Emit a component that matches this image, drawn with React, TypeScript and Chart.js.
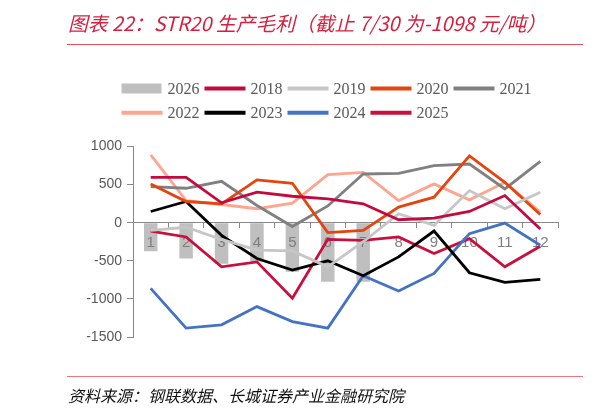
import React, { useEffect, useRef } from "react";
import { Chart, registerables } from "chart.js";

Chart.register(...registerables);

const months = ["1", "2", "3", "4", "5", "6", "7", "8", "9", "10", "11", "12"];

const v2026 = [-375, -470, -540, -510, -645, -775, -775, null, null, null, null, null];
const v2018 = [595, 595, 261, 400, 347, 313, 248, 39, 60, 147, 356, -83];
const v2019 = [-100, -60, -220, -360, -370, -580, -250, 117, -35, 421, 183, 400];
const v2020 = [509, 278, 248, 561, 517, -130, -100, 204, 335, 878, 530, 108];
const v2021 = [474, 452, 543, 226, -50, 220, 639, 647, 748, 770, 443, 804];
const v2022 = [891, 291, 239, 183, 256, 630, 661, 291, 509, 300, 530, 139];
const v2023 = [147, 278, -166, -470, -622, -500, -696, -449, -109, -657, -783, -744];
const v2024 = [-862, -1383, -1340, -1101, -1297, -1383, -696, -897, -666, -144, -5, -296];
const v2025 = [-109, -187, -579, -514, -992, -218, -231, -187, -405, -209, -579, -309];

const yMin = -1500;
const yMax = 1000;
const yStep = 500;

const titleText = "图表 22：STR20 生产毛利（截止 7/30 为-1098 元/吨）";
const sourceText = "资料来源：钢联数据、长城证券产业金融研究院";

const serifFont = "'Liberation Serif', 'Times New Roman', 'DejaVu Serif', serif";
const sansFont = "'Liberation Sans', Arial, sans-serif";

// Draw the bar dataset first (before the axes), so tick labels sit on the bars
// and the lines sit on top of the labels.
const barsUnderAxisPlugin = {
  id: "barsUnderAxis",
  beforeDraw(chart: any) {
    const meta = chart.getDatasetMeta(0);
    if (!meta || meta.hidden) return;
    const ctx = chart.ctx;
    const area = chart.chartArea;
    ctx.save();
    ctx.beginPath();
    ctx.rect(area.left, area.top, area.right - area.left, area.bottom - area.top);
    ctx.clip();
    meta.data.forEach((el: any) => el.draw(ctx, area));
    ctx.restore();
  },
  beforeDatasetDraw(chart: any, args: any) {
    if (args.index === 0) return false;
    return true;
  },
};

const legendPlugin = {
  id: "customLegend",
  afterDraw(chart: any) {
    const ctx = chart.ctx;
    ctx.save();
    ctx.font = "16px " + serifFont;
    ctx.textBaseline = "middle";
    ctx.textAlign = "left";
    const startX = 121.5;
    const maxX = 560;
    const rowH = 24.2;
    const sw = 41;
    let x = startX;
    let y = 88.5;
    chart.data.datasets.forEach((ds: any) => {
      const label = ds.label as string;
      const tw = ctx.measureText(label).width;
      const w = sw + 5 + tw + 5;
      if (x + w > maxX) {
        x = startX;
        y += rowH;
      }
      if (ds.type === "bar") {
        ctx.fillStyle = ds.backgroundColor;
        ctx.fillRect(x, y - 5, 40, 10);
      } else {
        ctx.strokeStyle = ds.borderColor;
        ctx.lineWidth = 4;
        ctx.beginPath();
        ctx.moveTo(x, y);
        ctx.lineTo(x + sw, y);
        ctx.stroke();
      }
      ctx.fillStyle = "#595959";
      ctx.fillText(label, x + sw + 5, y + 1);
      x += w;
    });
    ctx.restore();
  },
};

function lineDs(label: string, data: number[], color: string) {
  return {
    type: "line" as const,
    label,
    data,
    borderColor: color,
    backgroundColor: color,
    borderWidth: 2.8,
    pointRadius: 0,
    pointHoverRadius: 0,
    tension: 0,
    fill: false,
    order: 1,
  };
}

export default function App() {
  const canvasRef = useRef<HTMLCanvasElement | null>(null);

  useEffect(() => {
    if (!canvasRef.current) return;
    const chart = new Chart(canvasRef.current, {
      type: "bar",
      data: {
        labels: months,
        datasets: [
          {
            type: "bar",
            label: "2026",
            data: v2026 as any,
            backgroundColor: "#BFBFBF",
            borderWidth: 0,
            barPercentage: 0.38,
            categoryPercentage: 1,
            order: 10,
          } as any,
          lineDs("2018", v2018, "#C3093D"),
          lineDs("2019", v2019, "#C6C6C6"),
          lineDs("2020", v2020, "#E4440E"),
          lineDs("2021", v2021, "#808080"),
          lineDs("2022", v2022, "#FFA58F"),
          lineDs("2023", v2023, "#000000"),
          lineDs("2024", v2024, "#4472C4"),
          lineDs("2025", v2025, "#C8103E"),
        ],
      },
      options: {
        responsive: false,
        animation: false,
        layout: { padding: { top: 146.5, bottom: 75, left: 83, right: 42 } },
        plugins: {
          legend: { display: false },
          title: { display: false },
          tooltip: { enabled: false },
        },
        scales: {
          x: {
            position: { y: 0 } as any,
            offset: true,
            ticks: {
              color: "#7F7F7F",
              font: { family: sansFont, size: 15 },
              padding: 6,
              maxRotation: 0,
              autoSkip: false,
            },
            grid: {
              offset: true,
              drawOnChartArea: false,
              tickLength: 5,
              color: "#898989",
            },
            border: { color: "#898989", width: 1 },
          },
          y: {
            min: yMin,
            max: yMax,
            ticks: {
              stepSize: yStep,
              color: "#595959",
              font: { family: sansFont, size: 14 },
              padding: 5,
              callback: (v: any) => String(v),
            },
            grid: {
              drawOnChartArea: false,
              tickLength: 6,
              color: "#898989",
            },
            border: { color: "#898989", width: 1 },
            afterFit: (s: any) => {
              s.width = 50;
            },
          },
        },
      },
      plugins: [barsUnderAxisPlugin, legendPlugin],
    });
    return () => chart.destroy();
  }, []);

  return (
    <div
      style={{
        position: "absolute",
        left: 0,
        top: 0,
        width: 600,
        height: 412,
        background: "#ffffff",
        overflow: "hidden",
      }}
    >
      <canvas
        ref={canvasRef}
        width={600}
        height={412}
        style={{ position: "absolute", left: 0, top: 0, width: 600, height: 412 }}
      />
      <div
        style={{
          position: "absolute",
          left: 68,
          top: 10,
          fontFamily: "'Noto Sans CJK SC', sans-serif",
          fontStyle: "italic",
          fontSize: 19.8,
          lineHeight: "26px",
          color: "#D41F3E",
          whiteSpace: "nowrap",
        }}
      >
        {titleText}
      </div>
      <div
        style={{
          position: "absolute",
          left: 67,
          top: 44,
          width: 516,
          height: 1,
          background: "#E8505F",
        }}
      />
      <div
        style={{
          position: "absolute",
          left: 67,
          top: 376,
          width: 516,
          height: 1,
          background: "#EE7480",
        }}
      />
      <div
        style={{
          position: "absolute",
          left: 68,
          top: 383,
          fontFamily: "'Noto Sans CJK SC', sans-serif",
          fontStyle: "italic",
          fontSize: 16,
          lineHeight: "24px",
          color: "#111111",
          whiteSpace: "nowrap",
        }}
      >
        {sourceText}
      </div>
    </div>
  );
}
